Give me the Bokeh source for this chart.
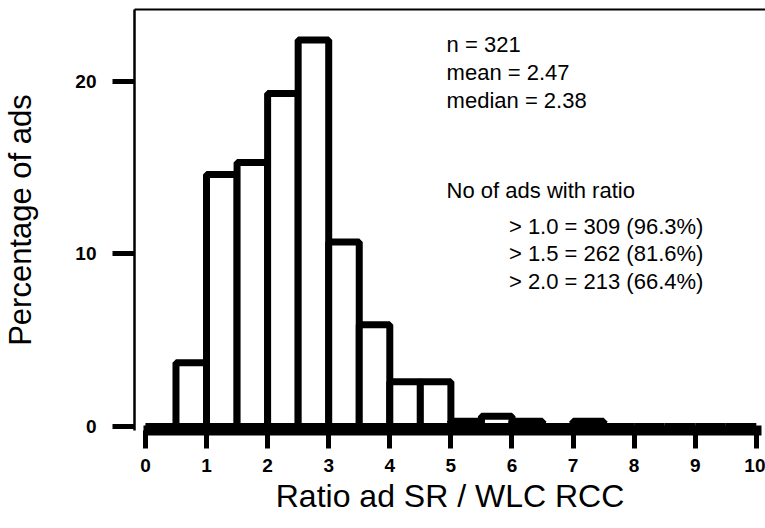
from bokeh.plotting import figure
from bokeh.models import LinearAxis, FixedTicker, Range1d, Label
from bokeh.embed import file_html
from bokeh.resources import INLINE

# ---- data ----
bin_left = [0.0, 0.5, 1.0, 1.5, 2.0, 2.5, 3.0, 3.5, 4.0, 4.5,
            5.0, 5.5, 6.0, 6.5, 7.0, 7.5, 8.0, 8.5, 9.0, 9.5]
bin_right = [0.5, 1.0, 1.5, 2.0, 2.5, 3.0, 3.5, 4.0, 4.5, 5.0,
             5.5, 6.0, 6.5, 7.0, 7.5, 8.0, 8.5, 9.0, 9.5, 10.0]
percent = [0.0, 3.7, 14.6, 15.3, 19.3, 22.4, 10.7, 5.9, 2.6, 2.6,
           0.3, 0.6, 0.3, 0.0, 0.3, 0.0, 0.0, 0.0, 0.0, 0.0]
x_ticks = [0, 1, 2, 3, 4, 5, 6, 7, 8, 9, 10]
y_ticks = [0, 10, 20]
stat_lines = ["n = 321", "mean = 2.47", "median = 2.38"]
ratio_header = "No of ads with ratio"
ratio_lines = ["> 1.0 = 309 (96.3%)", "> 1.5 = 262 (81.6%)", "> 2.0 = 213 (66.4%)"]

FONT = "Liberation Sans"

p = figure(width=765, height=526,
           x_range=Range1d(-0.179, 10.15), y_range=Range1d(-0.23, 24.17),
           output_backend="svg", toolbar_location=None,
           x_axis_location=None, y_axis_location=None,
           min_border_left=132, min_border_right=0,
           min_border_top=9, min_border_bottom=96)
p.outline_line_color = None
p.grid.visible = False
p.background_fill_color = "white"
p.border_fill_color = "white"

xaxis = LinearAxis(ticker=FixedTicker(ticks=x_ticks), bounds=(-0.03, 10.08))
xaxis.axis_line_width = 10
xaxis.axis_line_color = "black"
xaxis.major_tick_line_width = 5
xaxis.major_tick_out = 18
xaxis.major_tick_in = 0
xaxis.minor_tick_line_color = None
xaxis.major_label_text_font = FONT
xaxis.major_label_text_font_style = "bold"
xaxis.major_label_text_font_size = "19px"
xaxis.major_label_text_color = "black"
xaxis.major_label_standoff = 10
xaxis.axis_label = "Ratio ad SR / WLC RCC"
xaxis.axis_label_text_font = FONT
xaxis.axis_label_text_font_style = "normal"
xaxis.axis_label_text_font_size = "32px"
xaxis.axis_label_text_color = "black"
xaxis.axis_label_standoff = 3
p.add_layout(xaxis, "below")

yaxis = LinearAxis(ticker=FixedTicker(ticks=y_ticks))
yaxis.axis_line_width = 2.5
yaxis.axis_line_color = "black"
yaxis.major_tick_line_width = 5
yaxis.major_tick_out = 22
yaxis.major_tick_in = 0
yaxis.minor_tick_line_color = None
yaxis.major_label_text_font = FONT
yaxis.major_label_text_font_style = "bold"
yaxis.major_label_text_font_size = "19px"
yaxis.major_label_text_color = "black"
yaxis.major_label_standoff = 16
yaxis.axis_label = "Percentage of ads"
yaxis.axis_label_text_font = FONT
yaxis.axis_label_text_font_style = "normal"
yaxis.axis_label_text_font_size = "31px"
yaxis.axis_label_text_color = "black"
yaxis.axis_label_standoff = 34
p.add_layout(yaxis, "left")

top = LinearAxis(ticker=FixedTicker(ticks=[]))
top.axis_line_width = 2
top.axis_line_color = "black"
top.major_tick_out = 0
top.major_tick_in = 0
top.minor_tick_line_color = None
top.major_label_text_font_size = "0px"
top.major_label_standoff = 0
p.add_layout(top, "above")

p.quad(left=bin_left, right=bin_right, bottom=0, top=percent,
       fill_color="white", line_color="black", line_width=7)

TXT = "22px"
stat_x = 4.93
stat_y = [22.15, 20.52, 18.9]
for txt, yy in zip(stat_lines, stat_y):
    p.add_layout(Label(x=stat_x, y=yy, text=txt, text_font=FONT,
                       text_font_size=TXT, text_baseline="middle",
                       text_color="black"))
p.add_layout(Label(x=stat_x, y=13.68, text=ratio_header, text_font=FONT,
                   text_font_size=TXT, text_baseline="middle",
                   text_color="black"))
ratio_y = [11.59, 10.03, 8.41]
for txt, yy in zip(ratio_lines, ratio_y):
    p.add_layout(Label(x=5.95, y=yy, text=txt, text_font=FONT,
                       text_font_size=TXT, text_baseline="middle",
                       text_color="black"))

open("out.html", "w").write(file_html(p, INLINE))
